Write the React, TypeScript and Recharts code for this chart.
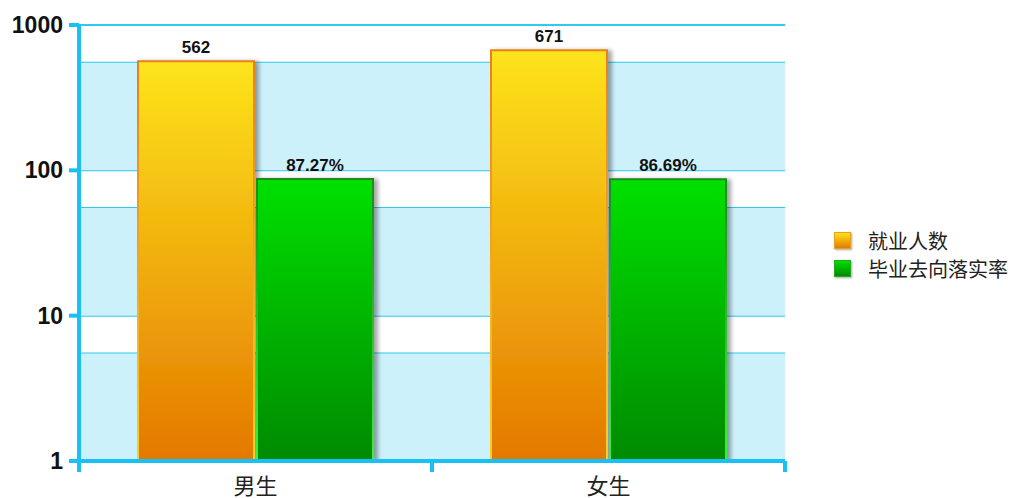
import {
  Bar,
  BarChart,
  CartesianGrid,
  LabelList,
  Legend,
  ReferenceArea,
  XAxis,
  YAxis,
} from 'recharts';

const categories = ['男生', '女生'];
const employed = [562, 671];
const placementRate = [87.27, 86.69];
const yTicks = [1, 10, 100, 1000];
const midLines = [5.5, 55, 550];
const blueBands = [
  [1, 5.5],
  [10, 55],
  [100, 550],
];

const CHART_W = 1022;
const CHART_H = 498;
const LEGEND_W = 188;
const PLOT_RIGHT = 785;
const MARGIN = { top: 25, right: CHART_W - PLOT_RIGHT - LEGEND_W, left: 0, bottom: 0 };
const Y_AXIS_W = 79;
const X_AXIS_H = 37;
const HALF_BAND = (PLOT_RIGHT - Y_AXIS_W) / categories.length / 2;

const CYAN = '#18c0f4';
const GRID = '#2ec8f0';
const FONT = '"Liberation Sans", Arial, "Noto Sans CJK SC", sans-serif';

const data = categories.map((name, i) => ({
  name,
  employed: employed[i],
  rate: placementRate[i],
}));

const gridTicks = [...yTicks, ...midLines].sort((a, b) => a - b);

function CategoryTick({ x, y, payload, index }: any) {
  return (
    <g>
      {index === 0 && (
        <line x1={x - HALF_BAND} x2={x - HALF_BAND} y1={y} y2={y + 11} stroke={CYAN} strokeWidth={4} />
      )}
      <line x1={x + HALF_BAND} x2={x + HALF_BAND} y1={y} y2={y + 11} stroke={CYAN} strokeWidth={4} />
      <text x={x} y={y + 33} textAnchor="middle" fontSize={22} fill="#222" fontFamily={FONT}>
        {payload.value}
      </text>
    </g>
  );
}

function LegendContent({ payload }: any) {
  return (
    <div style={{ fontFamily: FONT }}>
      {(payload ?? []).map((entry: any) => (
        <div key={entry.value} style={{ display: 'flex', alignItems: 'center', height: 28 }}>
          <span
            style={{
              display: 'inline-block',
              width: 15,
              height: 15,
              marginRight: 17,
              border: `1px solid ${entry.dataKey === 'employed' ? '#e8a020' : '#22aa22'}`,
              background:
                entry.dataKey === 'employed'
                  ? 'linear-gradient(#fde21a, #e57a00)'
                  : 'linear-gradient(#00e000, #008a00)',
              boxShadow: '1px 1px 2px rgba(0,0,0,0.35)',
            }}
          />
          <span style={{ fontSize: 20, color: '#222' }}>{entry.value}</span>
        </div>
      ))}
    </div>
  );
}

export default function App() {
  return (
    <div style={{ position: 'absolute', left: 0, top: 0, background: '#fff' }}>
      <BarChart
        width={CHART_W}
        height={CHART_H}
        data={data}
        margin={MARGIN}
        barSize={116}
        barGap={3}
        style={{ fontFamily: FONT }}
      >
        <defs>
          <linearGradient id="orangeFill" x1="0" y1="0" x2="0" y2="1">
            <stop offset="0%" stopColor="#fde41b" />
            <stop offset="100%" stopColor="#e47800" />
          </linearGradient>
          <linearGradient id="orangeStroke" x1="0" y1="0" x2="0" y2="1">
            <stop offset="0%" stopColor="#e8801c" />
            <stop offset="100%" stopColor="#f6d02a" />
          </linearGradient>
          <linearGradient id="greenFill" x1="0" y1="0" x2="0" y2="1">
            <stop offset="0%" stopColor="#00e000" />
            <stop offset="100%" stopColor="#008a00" />
          </linearGradient>
          <linearGradient id="greenStroke" x1="0" y1="0" x2="0" y2="1">
            <stop offset="0%" stopColor="#1a8a1a" />
            <stop offset="100%" stopColor="#3ef03e" />
          </linearGradient>
          <filter id="barShadow" x="-10%" y="-10%" width="130%" height="120%">
            <feDropShadow dx={4} dy={1} stdDeviation={2} floodColor="#000" floodOpacity={0.35} />
          </filter>
        </defs>
        {blueBands.map(([lo, hi]) => (
          <ReferenceArea key={lo} y1={lo} y2={hi} fill="#cdf1fb" fillOpacity={1} stroke="none" />
        ))}
        <CartesianGrid
          vertical={false}
          stroke={GRID}
          strokeWidth={2}
          strokeOpacity={1}
          yAxisId="grid"
        />
        <XAxis
          dataKey="name"
          height={X_AXIS_H}
          axisLine={{ stroke: CYAN, strokeWidth: 4 }}
          tickLine={false}
          tickSize={0}
          tickMargin={0}
          tick={<CategoryTick />}
          interval={0}
        />
        <YAxis yAxisId="grid" scale="log" domain={[1, 1000]} ticks={gridTicks} allowDataOverflow hide />
        <YAxis
          scale="log"
          domain={[1, 1000]}
          ticks={yTicks}
          allowDataOverflow
          width={Y_AXIS_W}
          axisLine={{ stroke: CYAN, strokeWidth: 4 }}
          tickLine={{ stroke: CYAN, strokeWidth: 4 }}
          tickSize={10}
          tickMargin={6}
          tick={{ fontSize: 23, fontWeight: 'bold', fill: '#111', fontFamily: FONT }}
        />
        <Legend
          layout="vertical"
          align="right"
          verticalAlign="middle"
          content={<LegendContent />}
          wrapperStyle={{ left: 834, top: 226, width: LEGEND_W }}
        />
        <Bar
          dataKey="employed"
          name="就业人数"
          fill="url(#orangeFill)"
          stroke="url(#orangeStroke)"
          strokeWidth={2}
          filter="url(#barShadow)"
          isAnimationActive={false}
        >
          <LabelList
            dataKey="employed"
            position="top"
            offset={8}
            fontSize={17}
            fontWeight="bold"
            fill="#111"
          />
        </Bar>
        <Bar
          dataKey="rate"
          name="毕业去向落实率"
          fill="url(#greenFill)"
          stroke="url(#greenStroke)"
          strokeWidth={2}
          filter="url(#barShadow)"
          isAnimationActive={false}
        >
          <LabelList
            dataKey="rate"
            position="top"
            offset={8}
            fontSize={17}
            fontWeight="bold"
            fill="#111"
            formatter={(v: any) => `${Number(v).toFixed(2)}%`}
          />
        </Bar>
      </BarChart>
    </div>
  );
}
